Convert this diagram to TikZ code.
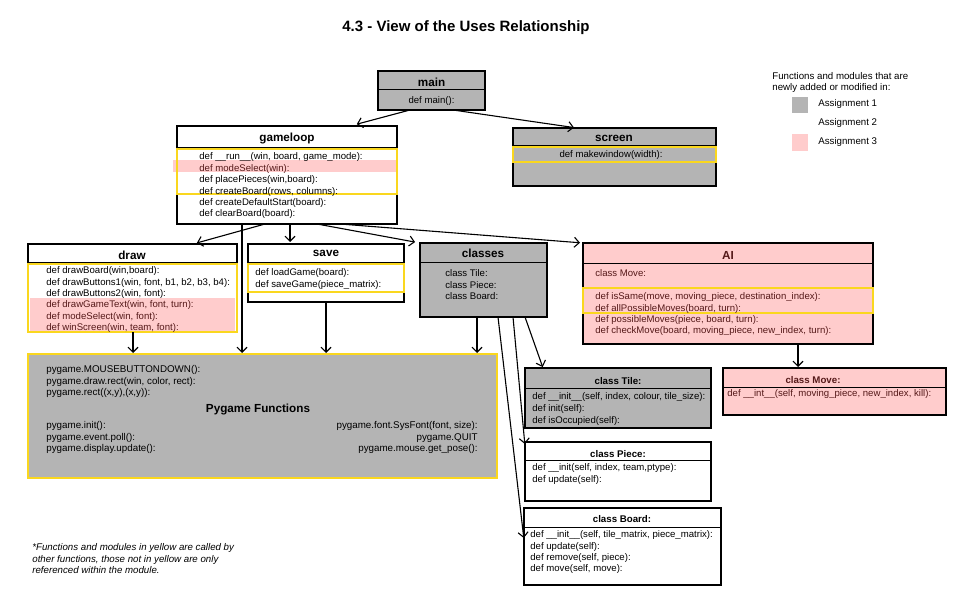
\documentclass[tikz,border=0pt]{standalone}
\usepackage{fontspec}
\setmainfont{Liberation Sans}
\usetikzlibrary{arrows.meta}
\definecolor{asgOne}{RGB}{180,180,180}
\definecolor{asgThree}{RGB}{255,204,204}
\definecolor{hiYellow}{RGB}{250,215,30}
\definecolor{pinkText}{RGB}{85,25,25}
\tikzset{every picture/.style={line width=0.75pt}}
\tikzset{
  modbox/.style={draw, line width=1.3pt, anchor=north west, inner sep=0pt, outer sep=0pt},
  modname/.style={font=\fontsize{11.7}{14}\selectfont\bfseries, inner sep=0pt},
  clsname/.style={font=\fontsize{9.7}{12}\selectfont\bfseries, inner sep=0pt},
  funcs/.style={font=\fontsize{9.6}{11.4}\selectfont, align=left, anchor=north west, inner sep=0pt},
  callmark/.style={draw=hiYellow, line width=1.3pt},
  divider/.style={line width=1pt},
  uses/.style={-{Straight Barb[length=5pt,width=10pt]}, line width=1.1pt},
}

\begin{document}
\begin{tikzpicture}[x=1pt,y=1pt,yscale=-1]
\useasboundingbox (0,0) rectangle (960,601);

\node [font=\fontsize{15}{18}\selectfont\bfseries] (title) at (466,28) {4.3 - View of the Uses Relationship};

% legend
\node [funcs, font=\fontsize{9.7}{10.8}\selectfont] (legendT) at (772,72.5) {Functions and modules that are\\newly added or modified in:};
\fill [asgOne] (792,97) rectangle (808,113);
\fill [asgThree] (792,134) rectangle (808,151);
\node [funcs, anchor=west, font=\fontsize{9.7}{12}\selectfont] (legendA) at (818,104) {Assignment 1};
\node [funcs, anchor=west, font=\fontsize{9.7}{12}\selectfont] (legendB) at (818,123) {Assignment 2};
\node [funcs, anchor=west, font=\fontsize{9.7}{12}\selectfont] (legendC) at (818,142) {Assignment 3};

% main
\node [modbox, fill=asgOne, minimum width=107pt, minimum height=39pt] (main) at (378,71) {};
\draw [divider] (main.west |- 0,90) -- (main.east |- 0,90);
\node [modname] (mainT) at (431.5,82) {main};
\node [funcs, anchor=center] (mainF) at (431.5,101) {def main():};

% gameloop
\node [modbox, fill=white, minimum width=220pt, minimum height=98pt] (gameloop) at (177,126) {};
\draw [divider] (gameloop.west |- 0,148) -- (gameloop.east |- 0,148);
\fill [asgThree] (173,160) rectangle (397,172);
\draw [callmark] (177,149) rectangle (397,194);
\node [modname] (gameloopT) at (287,139) {gameloop};
\node [funcs] (gameloopF) at (199,152.6) {def \_\_run\_\_(win, board, game\_mode):\\
  \textcolor{pinkText}{def modeSelect(win):}\\
  def placePieces(win,board):\\
  def createBoard(rows, columns):\\
  def createDefaultStart(board):\\
  def clearBoard(board):};

% screen
\node [modbox, fill=asgOne, minimum width=203pt, minimum height=58pt] (screen) at (513,128) {};
\draw [divider] (screen.west |- 0,146) -- (screen.east |- 0,146);
\draw [callmark] (513,147) rectangle (716,162);
\node [modname] (screenT) at (614,138) {screen};
\node [funcs, anchor=center] (screenF) at (611,155) {def makewindow(width):};

% draw
\node [modbox, fill=white, minimum width=209pt, minimum height=88pt] (draw) at (28,244) {};
\draw [divider] (draw.west |- 0,263) -- (draw.east |- 0,263);
\fill [asgThree] (30,298) rectangle (235,331);
\draw [callmark] (28,264) rectangle (237,332);
\node [modname] (drawT) at (132,255) {draw};
\node [funcs] (drawF) at (46,266.3) {def drawBoard(win,board):\\
  def drawButtons1(win, font, b1, b2, b3, b4):\\
  def drawButtons2(win, font):\\
  \textcolor{pinkText}{def drawGameText(win, font, turn):}\\
  \textcolor{pinkText}{def modeSelect(win, font):}\\
  \textcolor{pinkText}{def winScreen(win, team, font):}};

% save
\node [modbox, fill=white, minimum width=156pt, minimum height=58pt] (save) at (248,244) {};
\draw [divider] (save.west |- 0,263) -- (save.east |- 0,263);
\draw [callmark] (248,264) rectangle (404,292);
\node [modname] (saveT) at (326,253) {save};
\node [funcs] (saveF) at (255,268.3) {def loadGame(board):\\def saveGame(piece\_matrix):};

% classes
\node [modbox, fill=asgOne, minimum width=127pt, minimum height=74pt] (classes) at (420,243) {};
\draw [divider] (classes.west |- 0,263) -- (classes.east |- 0,263);
\node [modname] (classesT) at (483,253) {classes};
\node [funcs] (classesF) at (445,269.3) {class Tile:\\class Piece:\\class Board:};

% AI
\node [modbox, fill=asgThree, minimum width=290pt, minimum height=101pt] (AI) at (583,243) {};
\draw [divider] (AI.west |- 0,264) -- (AI.east |- 0,264);
\draw [callmark] (583,288) rectangle (873,313);
\node [modname, text=pinkText] (AIT) at (728,255) {AI};
\node [funcs, anchor=west, text=pinkText] (AIC) at (595,273) {class Move:};
\node [funcs, text=pinkText] (AIF) at (595,292.3) {def isSame(move, moving\_piece, destination\_index):\\
  def allPossibleMoves(board, turn):\\
  def possibleMoves(piece, board, turn):\\
  def checkMove(board, moving\_piece, new\_index, turn):};

% pygame
\node [modbox, draw=hiYellow, line width=1.5pt, fill=asgOne, minimum width=469pt, minimum height=124pt] (pygame) at (28,354) {};
\node [modname] (pygameT) at (258,409) {Pygame Functions};
\node [funcs, font=\fontsize{9.8}{11.4}\selectfont] (pygameA) at (46,365.3) {pygame.MOUSEBUTTONDOWN():\\
  pygame.draw.rect(win, color, rect):\\
  pygame.rect((x,y),(x,y)):};
\node [funcs, font=\fontsize{9.8}{11.4}\selectfont] (pygameB) at (46,421.3) {pygame.init():\\
  pygame.event.poll():\\
  pygame.display.update():};
\node [funcs, font=\fontsize{9.8}{11.4}\selectfont, anchor=north east, align=right] (pygameC) at (478,421.3) {pygame.font.SysFont(font, size):\\
  pygame.QUIT\\
  pygame.mouse.get\_pose():};

% class Tile
\node [modbox, fill=asgOne, minimum width=186pt, minimum height=60pt] (tile) at (525,368) {};
\draw [divider] (tile.west |- 0,388) -- (tile.east |- 0,388);
\node [clsname] (tileT) at (618,381) {class Tile:};
\node [funcs, font=\fontsize{9.6}{12}\selectfont] (tileF) at (532,392.3) {def \_\_init\_\_(self, index, colour, tile\_size):\\
  def init(self):\\
  def isOccupied(self):};

% class Piece
\node [modbox, fill=white, minimum width=186pt, minimum height=59pt] (piece) at (525,442) {};
\draw [divider] (piece.west |- 0,460) -- (piece.east |- 0,460);
\node [clsname] (pieceT) at (618,454) {class Piece:};
\node [funcs] (pieceF) at (532,463.3) {def \_\_init(self, index, team,ptype):\\def update(self):};

% class Board
\node [modbox, fill=white, minimum width=197pt, minimum height=77pt] (board) at (524,508) {};
\draw [divider] (board.west |- 0,527) -- (board.east |- 0,527);
\node [clsname] (boardT) at (622,519) {class Board:};
\node [funcs] (boardF) at (530,530.3) {def \_\_init\_\_(self, tile\_matrix, piece\_matrix):\\
  def update(self):\\
  def remove(self, piece):\\
  def move(self, move):};

% class Move
\node [modbox, fill=asgThree, minimum width=223pt, minimum height=47pt] (move) at (723,368) {};
\draw [divider] (move.west |- 0,387) -- (move.east |- 0,387);
\node [clsname, text=pinkText] (moveT) at (813,380) {class Move:};
\node [funcs, anchor=west, text=pinkText] (moveF) at (727,394) {def \_\_int\_\_(self, moving\_piece, new\_index, kill):};

% footnote
\node [funcs, font=\fontsize{9.7}{11.5}\selectfont\itshape] (note) at (32,543.3) {*Functions and modules in yellow are called by\\
  other functions, those not in yellow are only\\
  referenced within the module.};

% uses
\draw [uses, shorten >=7pt] (main.south -| 410,0) -- (gameloop.north -| 350,0);
\draw [uses, shorten >=3pt] (main.south -| 453,0) -- (screen.north -| 577,0);
\draw [uses, shorten >=4pt] (gameloop.south -| 265,0) -- (draw.north -| 193,0);
\draw [uses, shorten >=1pt] (gameloop.south -| 242,0) -- (pygame.north -| 242,0);
\draw [uses, shorten >=2pt] (gameloop.south -| 290,0) -- (save.north -| 290,0);
\draw [uses, shorten >=5pt] (gameloop.south -| 317,0) -- (classes.north west);
\draw [uses, shorten >=3pt] (gameloop.south -| 340,0) -- (AI.north west);
\draw [uses, shorten >=1pt] (draw.south -| 133,0) -- (pygame.north -| 133,0);
\draw [uses, shorten >=1pt] (save.south -| 326,0) -- (pygame.north -| 326,0);
\draw [uses, shorten >=1pt] (classes.south -| 477,0) -- (pygame.north -| 477,0);
\draw [uses, shorten >=1pt] (classes.south -| 525,0) -- (tile.north -| 543,0);
\draw [uses, shorten >=2pt] (classes.south -| 513,0) -- (piece.west |- 0,446);
\draw [uses, shorten >=2pt] (classes.south -| 498,0) -- (board.west |- 0,540);
\draw [uses, shorten >=1pt] (AI.south -| 798,0) -- (move.north -| 798,0);
\end{tikzpicture}
\end{document}
